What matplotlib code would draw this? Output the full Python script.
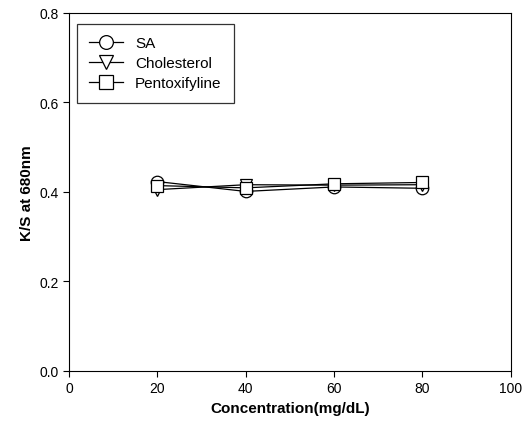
import matplotlib
matplotlib.use("Agg")
import matplotlib.pyplot as plt

conc = [20, 40, 60, 80]
sa = [0.423, 0.401, 0.411, 0.408]
chol = [0.405, 0.416, 0.415, 0.416]
pent = [0.414, 0.409, 0.418, 0.421]

plt.rcParams['font.family'] = ['Liberation Sans', 'DejaVu Sans']
fig = plt.figure(figsize=(5.26, 4.31), dpi=100)
ax = fig.add_axes([0.131, 0.137, 0.840, 0.831])
kw = dict(color='black', lw=0.9, markersize=9, markerfacecolor='white', markeredgecolor='black', markeredgewidth=0.9)
ax.plot(conc, sa, marker='o', label='SA', **kw)
ax.plot(conc, chol, marker='v', label='Cholesterol', **kw)
ax.plot(conc, pent, marker='s', label='Pentoxifyline', **kw)
ax.set_xlim(0, 100)
ax.set_ylim(0, 0.8)
ax.set_xticks([0, 20, 40, 60, 80, 100])
ax.set_yticks([0.0, 0.2, 0.4, 0.6, 0.8])
ax.set_yticklabels(['0.0', '0.2', '0.4', '0.6', '0.8'])
ax.tick_params(labelsize=10, direction='out', length=4)
ax.set_xlabel('Concentration(mg/dL)', fontsize=11, fontweight='bold')
ax.set_ylabel('K/S at 680nm', fontsize=11, fontweight='bold')
leg = ax.legend(loc='upper left', fontsize=11, frameon=True, fancybox=False, edgecolor='black',
                handlelength=2.2, borderpad=0.8, labelspacing=0.4, markerscale=1.1,
                bbox_to_anchor=(0.018, 0.969), borderaxespad=0)
leg.get_frame().set_linewidth(0.9)
fig.savefig('out.png', dpi=100)
